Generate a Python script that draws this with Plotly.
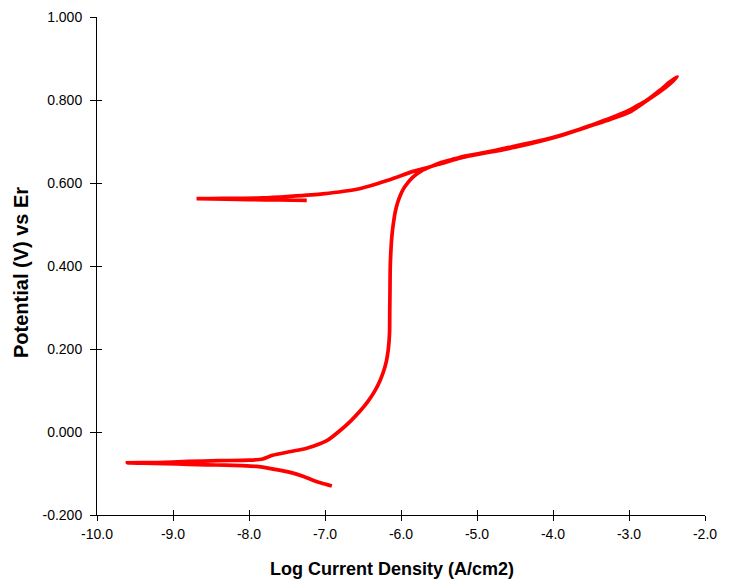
import plotly.graph_objects as go

# Polarization scan (log current density vs potential)
log_i = [
    # cathodic start towards Ecorr
    -6.91, -7.05, -7.16, -7.30, -7.42, -7.60, -7.75, -7.90, -8.10, -8.30, -8.55, -8.80, -9.10, -9.40, -9.60,
    # forward anodic branch
    -9.20, -8.80, -8.40, -8.00, -7.82, -7.69, -7.45, -7.24, -6.976,
    -6.805, -6.660, -6.535, -6.430, -6.344, -6.278, -6.228, -6.192, -6.170, -6.157, -6.150,
    -6.148, -6.145, -6.142, -6.133, -6.120, -6.100, -6.076, -6.047, -6.010, -5.964, -5.909, -5.850,
    -5.784, -5.725, -5.60, -5.49, -5.34, -5.184, -4.855, -4.526, -4.196, -3.867, -3.669, -3.472,
    -3.248, -3.024, -2.905, -2.787, -2.681, -2.589, -2.470, -2.365,
    # reverse scan
    -2.45, -2.60, -2.80, -3.00, -3.25, -3.50, -3.90, -4.50, -5.20, -5.50, -5.84, -6.15, -6.58, -7.03,
    -7.46, -7.82, -8.20, -8.50, -8.69,
    # tail after zero crossing
    -8.30, -8.00, -7.60, -7.24,
]
potential = [
    -0.130, -0.123, -0.116, -0.106, -0.099, -0.092, -0.087, -0.083, -0.081, -0.080, -0.079, -0.078, -0.076, -0.075, -0.0745,
    -0.0735, -0.071, -0.069, -0.068, -0.065, -0.056, -0.047, -0.039, -0.021,
    0.003, 0.027, 0.051, 0.075, 0.099, 0.123, 0.147, 0.171, 0.195, 0.219, 0.244,
    0.290, 0.340, 0.395, 0.436, 0.472, 0.503, 0.530, 0.551, 0.570, 0.587, 0.601, 0.613,
    0.623, 0.630, 0.640, 0.648, 0.656, 0.664, 0.675, 0.688, 0.701, 0.717, 0.728, 0.741,
    0.756, 0.773, 0.785, 0.797, 0.811, 0.824, 0.843, 0.856,
    0.841, 0.819, 0.794, 0.770, 0.753, 0.738, 0.714, 0.686, 0.661, 0.645, 0.628, 0.608, 0.585, 0.574,
    0.568, 0.564, 0.563, 0.5625, 0.5625,
    0.561, 0.560, 0.559, 0.558,
]

x_ticks = [-10, -9, -8, -7, -6, -5, -4, -3, -2]
x_labels = ["-10.0", "-9.0", "-8.0", "-7.0", "-6.0", "-5.0", "-4.0", "-3.0", "-2.0"]
y_ticks = [-0.2, 0.0, 0.2, 0.4, 0.6, 0.8, 1.0]
y_labels = ["-0.200", "0.000", "0.200", "0.400", "0.600", "0.800", "1.000"]

fig = go.Figure()
fig.add_trace(go.Scatter(
    x=log_i, y=potential, mode="lines",
    line=dict(color="#ff0000", width=3.7, shape="spline", smoothing=0.6),
    hoverinfo="skip", showlegend=False,
))
# invisible trace so the inner tick overlay axes are drawn
fig.add_trace(go.Scatter(x=[-10], y=[-0.2], xaxis="x2", yaxis="y2",
                         mode="markers", marker=dict(opacity=0), showlegend=False,
                         hoverinfo="skip"))

font = dict(family="Liberation Sans, Arial, sans-serif", color="black")

fig.update_layout(
    width=733, height=581,
    margin=dict(l=97, r=28, t=9, b=66),
    paper_bgcolor="white", plot_bgcolor="white",
    font=dict(family="Liberation Sans, Arial, sans-serif", size=14, color="black"),
    xaxis=dict(range=[-10, -2], tickvals=x_ticks, ticktext=x_labels,
               showgrid=False, zeroline=False, showline=True, linecolor="black", linewidth=1,
               ticks="outside", ticklen=5, tickcolor="black", tickfont=dict(size=14),
               ticklabelstandoff=1),
    yaxis=dict(range=[-0.2, 1.0], tickvals=y_ticks, ticktext=y_labels,
               showgrid=False, zeroline=False, showline=True, linecolor="black", linewidth=1,
               ticks="outside", ticklen=6, tickcolor="black", tickfont=dict(size=14),
               ticklabelstandoff=5),
    xaxis2=dict(range=[-10, -2], tickvals=x_ticks, overlaying="x", showticklabels=False,
                showgrid=False, zeroline=False, showline=False,
                ticks="inside", ticklen=5, tickcolor="black"),
    yaxis2=dict(range=[-0.2, 1.0], tickvals=y_ticks, overlaying="y", showticklabels=False,
                showgrid=False, zeroline=False, showline=False,
                ticks="inside", ticklen=5, tickcolor="black"),
    annotations=[
        dict(text="<b>Log Current Density (A/cm2)</b>", x=0.5, y=0, xref="paper", yref="paper",
             xanchor="center", yanchor="middle", xshift=-9, yshift=-54, showarrow=False,
             font=dict(size=18, **font)),
        dict(text="<b>Potential (V) vs Er</b>", x=0, y=0.5, xref="paper", yref="paper",
             xanchor="center", yanchor="middle", xshift=-76, yshift=-7, textangle=-90,
             showarrow=False, font=dict(size=20, **font)),
    ],
)

fig.write_html("out.html")
